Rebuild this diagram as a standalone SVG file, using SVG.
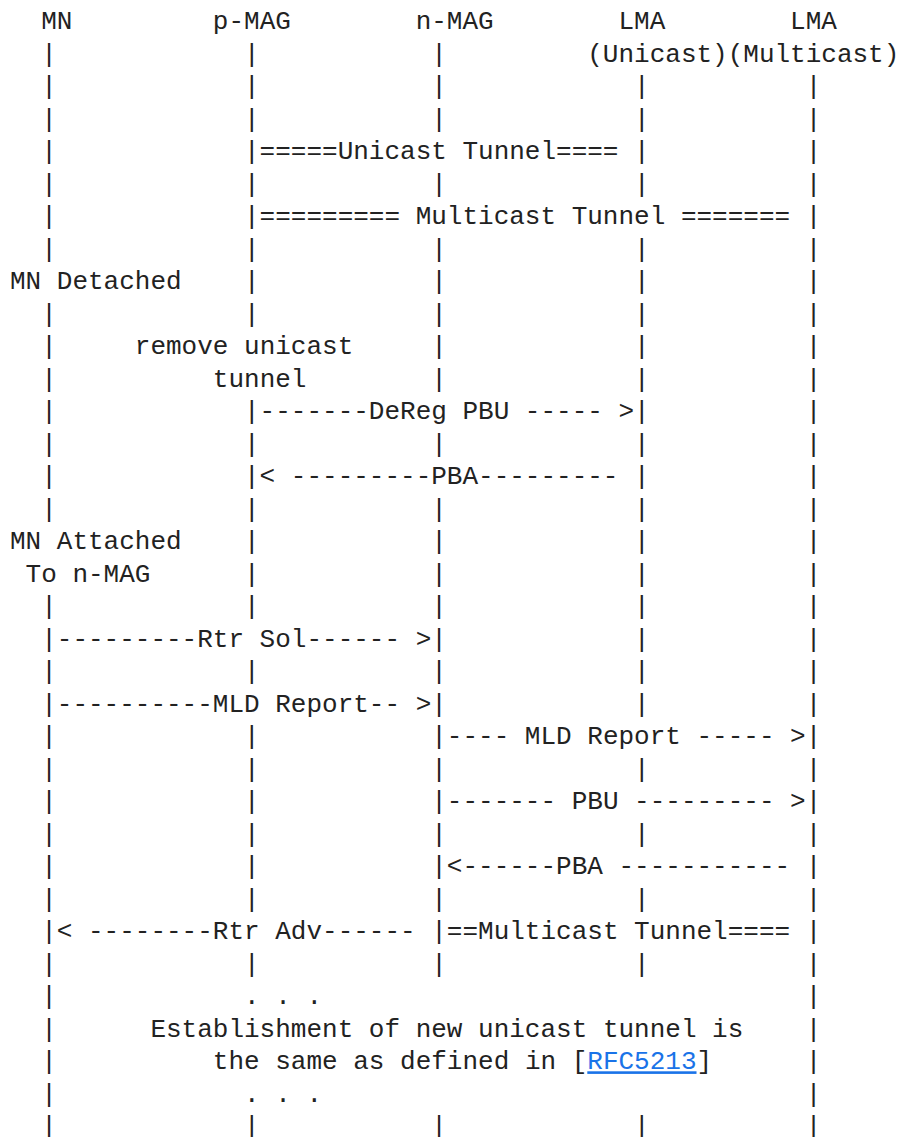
<svg xmlns="http://www.w3.org/2000/svg" width="898" height="1137" viewBox="0 0 898 1137">
  <style>
    text { font-family: "Liberation Mono", "DejaVu Sans Mono", monospace; font-size: 26px; fill: #222222; white-space: pre; }
    .link { fill: #1a73e8; text-decoration: underline; }
  </style>
  <rect width="898" height="1137" fill="#ffffff"/>

  <!-- Entities: column grid is x = 10 + col * 15.602, baseline y = 29.3 + row * 32.5 -->
  <g id="node-mn"><text x="41.2" y="29.3">MN</text></g>
  <g id="node-p-mag"><text x="212.83" y="29.3">p-MAG</text></g>
  <g id="node-n-mag"><text x="415.65" y="29.3">n-MAG</text></g>
  <g id="node-lma-unicast">
    <text x="618.48" y="29.3">LMA</text>
    <text x="587.27" y="61.8">(Unicast)</text>
  </g>
  <g id="node-lma-multicast">
    <text x="790.1" y="29.3">LMA</text>
    <text x="727.69" y="61.8">(Multicast)</text>
  </g>

  <!-- Lifelines: one bar glyph per row, interrupted where a message crosses -->
  <g id="lifelines">
    <g id="lifeline-mn">
      <text x="41.2" y="61.8">|</text><text x="41.2" y="94.3">|</text><text x="41.2" y="126.8">|</text>
      <text x="41.2" y="159.3">|</text><text x="41.2" y="191.8">|</text><text x="41.2" y="224.3">|</text>
      <text x="41.2" y="256.8">|</text><text x="41.2" y="321.8">|</text><text x="41.2" y="354.3">|</text>
      <text x="41.2" y="386.8">|</text><text x="41.2" y="419.3">|</text><text x="41.2" y="451.8">|</text>
      <text x="41.2" y="484.3">|</text><text x="41.2" y="516.8">|</text><text x="41.2" y="614.3">|</text>
      <text x="41.2" y="679.3">|</text><text x="41.2" y="744.3">|</text><text x="41.2" y="776.8">|</text>
      <text x="41.2" y="809.3">|</text><text x="41.2" y="841.8">|</text><text x="41.2" y="874.3">|</text>
      <text x="41.2" y="906.8">|</text><text x="41.2" y="971.8">|</text><text x="41.2" y="1004.3">|</text>
      <text x="41.2" y="1036.8">|</text><text x="41.2" y="1069.3">|</text><text x="41.2" y="1101.8">|</text>
      <text x="41.2" y="1134.3">|</text>
    </g>
    <g id="lifeline-p-mag">
      <text x="244.03" y="61.8">|</text><text x="244.03" y="94.3">|</text><text x="244.03" y="126.8">|</text>
      <text x="244.03" y="191.8">|</text><text x="244.03" y="256.8">|</text><text x="244.03" y="289.3">|</text>
      <text x="244.03" y="321.8">|</text><text x="244.03" y="451.8">|</text><text x="244.03" y="516.8">|</text>
      <text x="244.03" y="549.3">|</text><text x="244.03" y="581.8">|</text><text x="244.03" y="614.3">|</text>
      <text x="244.03" y="679.3">|</text><text x="244.03" y="744.3">|</text><text x="244.03" y="776.8">|</text>
      <text x="244.03" y="809.3">|</text><text x="244.03" y="841.8">|</text><text x="244.03" y="874.3">|</text>
      <text x="244.03" y="906.8">|</text><text x="244.03" y="971.8">|</text><text x="244.03" y="1134.3">|</text>
    </g>
    <g id="lifeline-n-mag">
      <text x="431.25" y="61.8">|</text><text x="431.25" y="94.3">|</text><text x="431.25" y="126.8">|</text>
      <text x="431.25" y="191.8">|</text><text x="431.25" y="256.8">|</text><text x="431.25" y="289.3">|</text>
      <text x="431.25" y="321.8">|</text><text x="431.25" y="354.3">|</text><text x="431.25" y="386.8">|</text>
      <text x="431.25" y="451.8">|</text><text x="431.25" y="516.8">|</text><text x="431.25" y="549.3">|</text>
      <text x="431.25" y="581.8">|</text><text x="431.25" y="614.3">|</text><text x="431.25" y="679.3">|</text>
      <text x="431.25" y="776.8">|</text><text x="431.25" y="841.8">|</text><text x="431.25" y="906.8">|</text>
      <text x="431.25" y="971.8">|</text><text x="431.25" y="1134.3">|</text>
    </g>
    <g id="lifeline-lma-unicast">
      <text x="634.08" y="94.3">|</text><text x="634.08" y="126.8">|</text><text x="634.08" y="191.8">|</text>
      <text x="634.08" y="256.8">|</text><text x="634.08" y="289.3">|</text><text x="634.08" y="321.8">|</text>
      <text x="634.08" y="354.3">|</text><text x="634.08" y="386.8">|</text><text x="634.08" y="451.8">|</text>
      <text x="634.08" y="516.8">|</text><text x="634.08" y="549.3">|</text><text x="634.08" y="581.8">|</text>
      <text x="634.08" y="614.3">|</text><text x="634.08" y="646.8">|</text><text x="634.08" y="679.3">|</text>
      <text x="634.08" y="711.8">|</text><text x="634.08" y="776.8">|</text><text x="634.08" y="841.8">|</text>
      <text x="634.08" y="906.8">|</text><text x="634.08" y="971.8">|</text><text x="634.08" y="1134.3">|</text>
    </g>
    <g id="lifeline-lma-multicast">
      <text x="805.7" y="94.3">|</text><text x="805.7" y="126.8">|</text><text x="805.7" y="159.3">|</text>
      <text x="805.7" y="191.8">|</text><text x="805.7" y="256.8">|</text><text x="805.7" y="289.3">|</text>
      <text x="805.7" y="321.8">|</text><text x="805.7" y="354.3">|</text><text x="805.7" y="386.8">|</text>
      <text x="805.7" y="419.3">|</text><text x="805.7" y="451.8">|</text><text x="805.7" y="484.3">|</text>
      <text x="805.7" y="516.8">|</text><text x="805.7" y="549.3">|</text><text x="805.7" y="581.8">|</text>
      <text x="805.7" y="614.3">|</text><text x="805.7" y="646.8">|</text><text x="805.7" y="679.3">|</text>
      <text x="805.7" y="711.8">|</text><text x="805.7" y="776.8">|</text><text x="805.7" y="841.8">|</text>
      <text x="805.7" y="906.8">|</text><text x="805.7" y="971.8">|</text><text x="805.7" y="1004.3">|</text>
      <text x="805.7" y="1036.8">|</text><text x="805.7" y="1069.3">|</text><text x="805.7" y="1101.8">|</text>
      <text x="805.7" y="1134.3">|</text>
    </g>
  </g>

  <!-- Messages and tunnels between lifelines -->
  <g id="connectors">
    <text x="244.03" y="159.3">|=====Unicast Tunnel==== |</text>
    <text x="244.03" y="224.3">|========= Multicast Tunnel ======= |</text>
    <text x="244.03" y="419.3">|-------DeReg PBU ----- &gt;|</text>
    <text x="244.03" y="484.3">|&lt; ---------PBA--------- |</text>
    <text x="41.2" y="646.8">|---------Rtr Sol------ &gt;|</text>
    <text x="41.2" y="711.8">|----------MLD Report-- &gt;|</text>
    <text x="431.25" y="744.3">|---- MLD Report ----- &gt;|</text>
    <text x="431.25" y="809.3">|------- PBU --------- &gt;|</text>
    <text x="431.25" y="874.3">|&lt;------PBA ----------- |</text>
    <text x="41.2" y="939.3">|&lt; --------Rtr Adv------ |==Multicast Tunnel==== |</text>
  </g>

  <!-- Events and notes -->
  <g id="notes">
    <text x="10" y="289.3">MN Detached</text>
    <text x="134.82" y="354.3">remove unicast</text>
    <text x="212.83" y="386.8">tunnel</text>
    <text x="10" y="549.3">MN Attached</text>
    <text x="25.6" y="581.8">To n-MAG</text>
    <text x="244.03" y="1004.3">. . .</text>
    <text x="150.42" y="1036.8">Establishment of new unicast tunnel is</text>
    <text x="212.83" y="1069.3">the same as defined in [<tspan class="link">RFC5213</tspan>]</text>
    <text x="244.03" y="1101.8">. . .</text>
  </g>
</svg>
